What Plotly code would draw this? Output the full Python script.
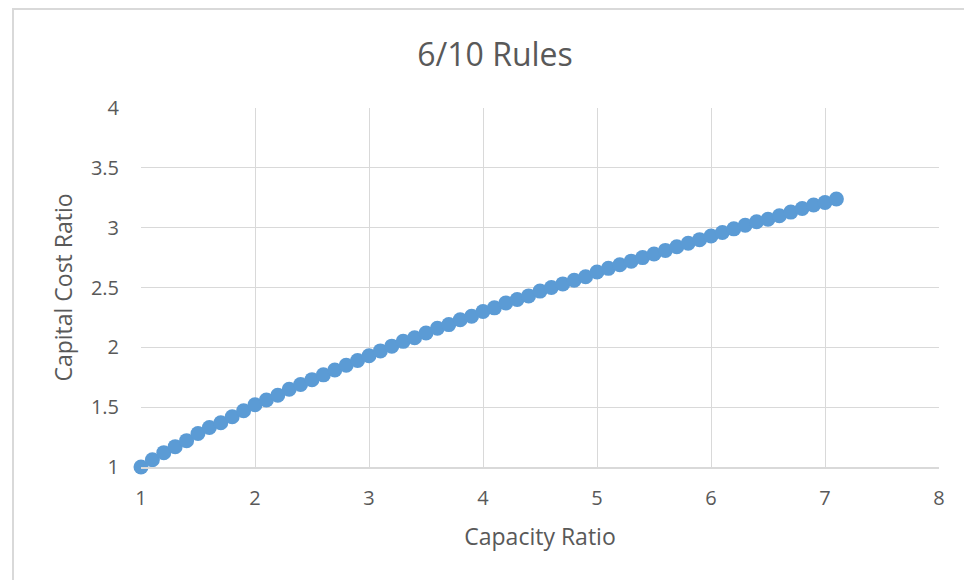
import plotly.graph_objects as go

capacity_ratio = [1.0, 1.1, 1.2, 1.3, 1.4, 1.5, 1.6, 1.7, 1.8, 1.9,
                  2.0, 2.1, 2.2, 2.3, 2.4, 2.5, 2.6, 2.7, 2.8, 2.9,
                  3.0, 3.1, 3.2, 3.3, 3.4, 3.5, 3.6, 3.7, 3.8, 3.9,
                  4.0, 4.1, 4.2, 4.3, 4.4, 4.5, 4.6, 4.7, 4.8, 4.9,
                  5.0, 5.1, 5.2, 5.3, 5.4, 5.5, 5.6, 5.7, 5.8, 5.9,
                  6.0, 6.1, 6.2, 6.3, 6.4, 6.5, 6.6, 6.7, 6.8, 6.9,
                  7.0, 7.1]
capital_cost_ratio = [1.00, 1.06, 1.12, 1.17, 1.22, 1.28, 1.33, 1.37, 1.42, 1.47,
                      1.52, 1.56, 1.60, 1.65, 1.69, 1.73, 1.77, 1.81, 1.85, 1.89,
                      1.93, 1.97, 2.01, 2.05, 2.08, 2.12, 2.16, 2.19, 2.23, 2.26,
                      2.30, 2.33, 2.37, 2.40, 2.43, 2.47, 2.50, 2.53, 2.56, 2.59,
                      2.63, 2.66, 2.69, 2.72, 2.75, 2.78, 2.81, 2.84, 2.87, 2.90,
                      2.93, 2.96, 2.99, 3.02, 3.05, 3.07, 3.10, 3.13, 3.16, 3.19,
                      3.21, 3.24]
x_ticks = [1, 2, 3, 4, 5, 6, 7, 8]
y_ticks = [1, 1.5, 2, 2.5, 3, 3.5, 4]
y_tick_labels = ["1", "1.5", "2", "2.5", "3", "3.5", "4"]

FONT = "'Open Sans', Lato, sans-serif"
TXT = "#595959"
GRID = "#D9D9D9"

fig = go.Figure()
fig.add_trace(go.Scatter(
    x=capacity_ratio, y=capital_cost_ratio, mode="markers",
    marker=dict(size=15, color="#5B9BD5", line=dict(width=0)),
    cliponaxis=False, showlegend=False,
))

# page body has an 8px margin; figure origin sits at (8, 8) on screen
W, H = 964, 572
L, R, T, B = 133, 33, 100, 113
pw, ph = W - L - R, H - T - B

def px_x(v):
    return (v - L) / pw

def px_y(v):
    return (H - B - v) / ph

fig.add_shape(type="rect", xref="paper", yref="paper",
              x0=px_x(5), x1=px_x(990), y0=px_y(600), y1=px_y(1),
              line=dict(color=GRID, width=2), fillcolor="rgba(0,0,0,0)", layer="below")

fig.update_layout(
    width=W, height=H,
    margin=dict(l=L, r=R, t=T, b=B),
    paper_bgcolor="white", plot_bgcolor="white",
    font=dict(family=FONT, color=TXT),
    title=dict(text="6/10 Rules", x=487 / W, xanchor="center", y=1 - 47 / H, yanchor="middle",
               font=dict(size=32, color=TXT, family=FONT)),
    xaxis=dict(range=[1, 8], tickvals=x_ticks, showgrid=True, gridcolor=GRID, gridwidth=1,
               zeroline=False, showline=True, linecolor=GRID, linewidth=1.5,
               tickfont=dict(size=20, color=TXT), ticklabelstandoff=12,
               title=dict(text="Capacity Ratio", font=dict(size=23, color=TXT), standoff=19)),
    yaxis=dict(range=[1, 4], tickvals=y_ticks, ticktext=y_tick_labels, showgrid=True,
               gridcolor=GRID, gridwidth=1, zeroline=False, showline=False,
               tickfont=dict(size=20, color=TXT), ticklabelstandoff=21,
               title=dict(text="Capital Cost Ratio", font=dict(size=23, color=TXT), standoff=11)),
)

fig.write_html("out.html")
